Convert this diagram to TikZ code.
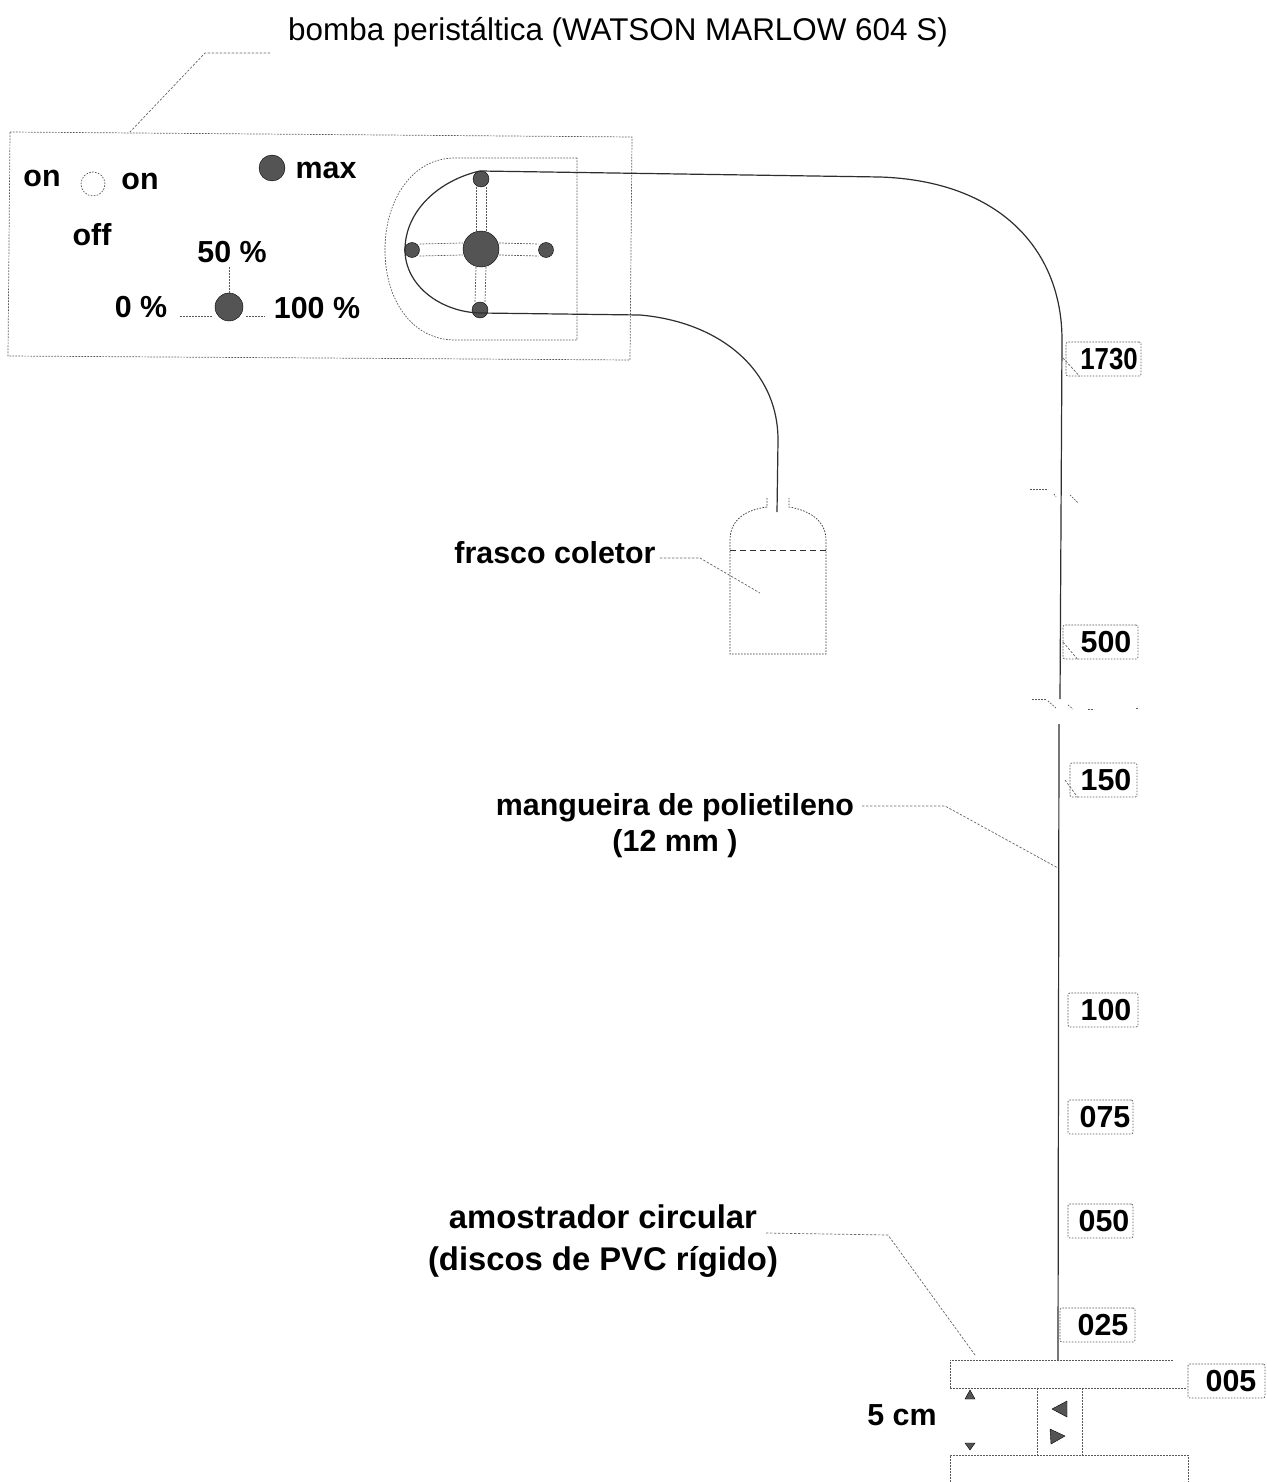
\documentclass[tikz,border=0pt]{standalone}
\usepackage{fontspec}
\usepackage{graphicx}
\setmainfont{Liberation Sans}
\usetikzlibrary{calc}
\definecolor{ink}{gray}{0.18}
\definecolor{knob}{gray}{0.33}
\tikzset{
  x=0.5pt,y=-0.5pt,
  lbl/.style={font=\fontsize{15.2pt}{16pt}\selectfont\bfseries,text=black,inner sep=0pt,align=center},
  biglbl/.style={font=\fontsize{16.4pt}{16pt}\selectfont\bfseries,text=black,inner sep=0pt,align=center},
  thinlbl/.style={font=\fontsize{15.7pt}{16pt}\selectfont,text=black,inner sep=0pt},
  dots/.style={draw=black!65,line width=0.35pt,dash pattern=on 0.8pt off 0.7pt},
  lead/.style={draw=black!60,line width=0.35pt,dash pattern=on 1.2pt off 0.8pt},
  hose/.style={draw=ink,line width=0.6pt},
  scale box/.style={lbl,draw=black!65,line width=0.35pt,dash pattern=on 0.8pt off 0.7pt,minimum height=17pt,rounded corners=1pt},
  roller/.style={circle,fill=knob,draw=black,line width=0.2pt,inner sep=0pt},
  tip/.style={fill=knob,draw=black,line width=0.2pt}
}
\begin{document}
\begin{tikzpicture}
\useasboundingbox (0,0) rectangle (1267,1482);
\fill[white] (0,0) rectangle (1267,1482);
% pump
\draw[dots] (10,132) -- (632,137) -- (630,360) -- (8,356) -- cycle;
\draw[dots] (577,158) -- (455,158) .. controls (412,158) and (385,200) .. (385,250) .. controls (385,300) and (412,340) .. (455,340) -- (577,340) -- cycle;
\node[thinlbl] (title) at (618,32) {bomba peristáltica (WATSON MARLOW 604 S)};
\coordinate (titleend) at (270,53);
\coordinate (titlebend) at (205,53);
\coordinate (pumptop) at (130,132);
\draw[lead] (titleend) -- (titlebend) -- (pumptop);
% controls
\node[lbl] (on1) at (42,178) {on};
\node[lbl] (on2) at (140,181) {on};
\node[lbl] (off) at (92,235) {off};
\node[lbl] (max) at (326,170) {max};
\node[lbl] (p50) at (232,252) {50 \%};
\node[lbl] (p0) at (141,307) {0 \%};
\node[lbl] (p100) at (317,308) {100 \%};
\node[circle,dots,minimum size=12pt,inner sep=0pt] (switch) at (93,184) {};
\node[roller,minimum size=13pt] (maxknob) at (272,168) {};
\node[roller,minimum size=14pt] (speed) at (229,307) {};
\draw[dots] (p50.south) ++(-3,4) -- (speed.north);
\draw[dots] ($(speed.center)+(-17,9)$) -- ++(-33,0);
\draw[dots] ($(speed.center)+(17,9)$) -- ++(19,0);
% rotor
\node[roller,minimum size=18pt] (hub) at (481,249) {};
\node[roller,minimum size=7.5pt] (rl) at (412,250) {};
\node[roller,minimum size=7.5pt] (rr) at (546,250) {};
\node[roller,minimum size=8pt] (rt) at (481,179) {};
\node[roller,minimum size=8pt] (rb) at (480,310) {};
\draw[dots] ($(rt.south)+(-5,0)$) -- ($(hub.north)+(-5,0)$);
\draw[dots] ($(rt.south)+(5,0)$) -- ($(hub.north)+(5,0)$);
\draw[dots] ($(hub.south)+(-5,0)$) -- ($(rb.north)+(-5,0)$);
\draw[dots] ($(hub.south)+(5,0)$) -- ($(rb.north)+(5,0)$);
\draw[dots] ($(rl.east)+(0,-6)$) -- ($(hub.west)+(0,-6)$);
\draw[dots] ($(rl.east)+(0,6)$) -- ($(hub.west)+(0,6)$);
\draw[dots] ($(hub.east)+(0,-6)$) -- ($(rr.west)+(0,-6)$);
\draw[dots] ($(hub.east)+(0,6)$) -- ($(rr.west)+(0,6)$);
% hose
\coordinate (hosetop) at (480,171);
\coordinate (hosebot) at (480,313);
\coordinate (hoseleft) at (405,250);
\coordinate (riser) at (1062,340);
\coordinate (breakA) at (1060,699);
\coordinate (breakB) at (1059,724);
\coordinate (foot) at (1058,1360);
\coordinate (neck) at (777,512);
\draw[hose] (hosetop) .. controls (440,180) and (405,210) .. (hoseleft) .. controls (405,285) and (440,312) .. (hosebot);
\draw[hose] (hosetop) -- (880,177) .. controls (1000,181) and (1062,250) .. (riser) -- (breakA);
\draw[hose] (breakB) -- (foot);
\draw[hose] (hosebot) -- (640,315) .. controls (720,322) and (778,370) .. (778,440) -- (neck);
% break marks
\draw[dots] (1030,489) -- (1048,489);
\draw[dots] (1054,494) -- (1056,497);
\draw[dots] (1070,495) -- (1078,503);
\draw[dots] (1032,699) -- (1046,699);
\draw[dots] (1048,701) -- (1056,708);
\draw[dots] (1068,705) -- (1073,709);
\draw[dots] (1088,709) -- (1094,709);
\draw[dots] (1136,708) -- (1139,708);
% flask
\draw[dots,draw=black!80] (767,498) -- (767,507) .. controls (745,510) and (730,520) .. (730,540) -- (730,654) -- (826,654) -- (826,540) .. controls (826,520) and (808,510) .. (789,507) -- (789,498);
\draw[lead,draw=black!80,dash pattern=on 3pt off 2pt] (730,550) -- (826,550);
\node[lbl] (frasco) at (555,553) {frasco coletor};
\coordinate (frascobend) at (700,558);
\coordinate (frascoend) at (760,593);
\draw[lead] (frasco.east) ++(4,5) -- (frascobend) -- (frascoend);
% hose label
\node[lbl] (mang) at (675,826) {mangueira de polietileno\\[2pt](12 mm )};
\coordinate (mangbend) at (945,806);
\coordinate (mangend) at (1058,868);
\draw[lead] (862,806) -- (mangbend) -- (mangend);
% scale labels
\node[scale box,minimum width=37.5pt] (s1730) at (1103.5,359) {\hspace*{5.5pt}\scalebox{0.85}[1]{1730}};
\node[scale box,minimum width=37.5pt] (s500) at (1100.5,642) {\hspace*{5.5pt}500};
\node[scale box,minimum width=33.5pt] (s150) at (1103.5,780) {\hspace*{2.5pt}150};
\node[scale box,minimum width=35pt] (s100) at (1103,1010) {\hspace*{3pt}100};
\node[scale box,minimum width=32.5pt] (s075) at (1100.5,1117) {\hspace*{4.5pt}075};
\node[scale box,minimum width=32.5pt] (s050) at (1100.5,1221) {\hspace*{3.5pt}050};
\node[scale box,minimum width=37.5pt] (s025) at (1097.5,1325) {\hspace*{5.5pt}025};
\node[scale box,minimum width=38.5pt] (s005) at (1226.5,1381) {\hspace*{4.5pt}005};
\draw[lead] (1063,358) -- ($(s1730.south west)+(14,0)$);
\draw[lead] (1063,642) -- ($(s500.south west)+(15,0)$);
\draw[lead] (1065,780) -- ($(s150.south west)+(8,0)$);
% sampler
\draw[dots] (950,1388) -- (950,1360) -- (1173,1360);
\draw[dots] (950,1388) -- (1187,1388);
\draw[dots] (1037,1388) -- (1037,1455);
\draw[dots] (1082,1388) -- (1082,1455);
\draw[dots] (950,1482) -- (950,1455) -- (1188,1455) -- (1188,1482);
\draw[tip] (1052,1409) -- (1067,1401) -- (1067,1417) -- cycle;
\draw[tip] (1065,1436) -- (1050,1429) -- (1051,1444) -- cycle;
\draw[tip] (970,1390) -- (965,1399) -- (975,1399) -- cycle;
\draw[tip] (970,1450) -- (965,1443) -- (975,1443) -- cycle;
\node[lbl] (five) at (902,1415) {5 cm};
\node[biglbl] (amos) at (603,1241) {amostrador circular\\[5pt](discos de PVC rígido)};
\coordinate (amosbend) at (888,1235);
\coordinate (amosend) at (975,1355);
\draw[lead] (766,1233) -- (amosbend) -- (amosend);
\end{tikzpicture}
\end{document}
